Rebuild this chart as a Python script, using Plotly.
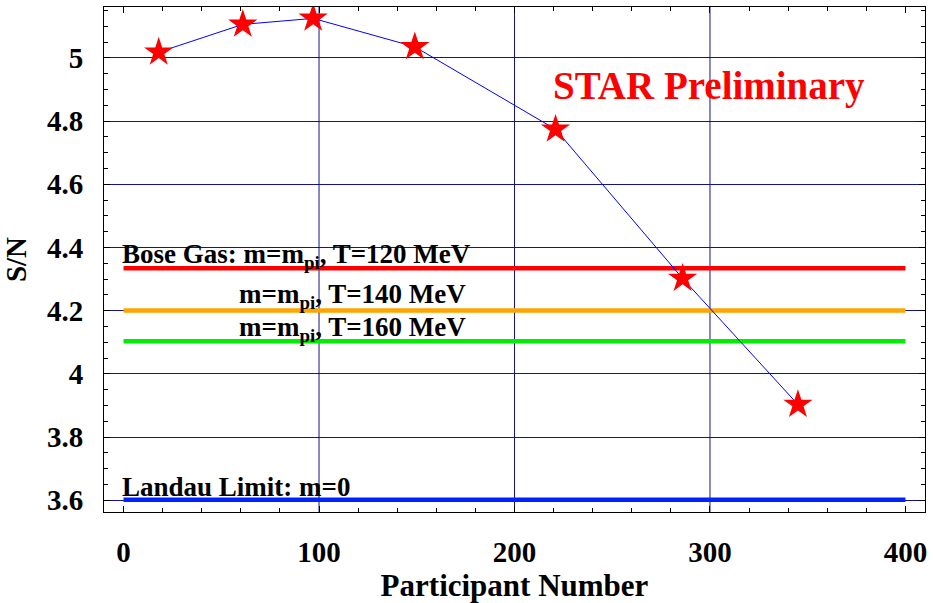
import plotly.graph_objects as go

# data
participants = [18, 61, 97, 149, 221, 286, 345]
sn_values = [5.018, 5.106, 5.125, 5.035, 4.774, 4.302, 3.903]

ref_x = [0, 400]
bose_120 = 4.334
bose_140 = 4.201
bose_160 = 4.103
landau = 3.602

x_ticks = [0, 100, 200, 300, 400]
y_ticks = [3.6, 3.8, 4.0, 4.2, 4.4, 4.6, 4.8, 5.0]
y_tick_text = ["3.6", "3.8", "4", "4.2", "4.4", "4.6", "4.8", "5"]
grid_x = [100, 200, 300]

FONT = "Liberation Serif, Times New Roman, serif"
GRID = "#14148a"

fig = go.Figure()

ref_lines = [
    (bose_120, "#ff0000"),
    (bose_140, "#ffa500"),
    (bose_160, "#00ee00"),
    (landau, "#0022ff"),
]
for val, col in ref_lines:
    fig.add_trace(go.Scatter(x=ref_x, y=[val, val], mode="lines",
                             line=dict(color=col, width=4.5),
                             showlegend=False, hoverinfo="skip"))

fig.add_trace(go.Scatter(x=participants, y=sn_values, mode="lines+markers",
                         line=dict(color="#0000ff", width=1),
                         marker=dict(symbol="star", size=22, color="#ff0000",
                                     line=dict(width=0)),
                         showlegend=False))

for gx in grid_x:
    fig.add_vline(x=gx, line=dict(color=GRID, width=1), layer="below")

tf = dict(family=FONT, size=29, color="black", weight="bold")
ttf = dict(family=FONT, size=31, color="black", weight="bold")
lf = dict(family=FONT, size=27, color="black", weight="bold")

annots = [
    dict(x=0, y=bose_120 + 0.040, text="Bose Gas: m=m<sub>pi</sub>, T=120 MeV"),
    dict(x=60, y=bose_140 + 0.045, text="m=m<sub>pi</sub>, T=140 MeV"),
    dict(x=60, y=bose_160 + 0.039, text="m=m<sub>pi</sub>, T=160 MeV"),
    dict(x=0, y=landau + 0.040, text="Landau Limit: m=0"),
]
for a in annots:
    fig.add_annotation(x=a["x"], y=a["y"], text=a["text"], showarrow=False,
                       xanchor="left", yanchor="middle", xshift=-4, font=lf)
fig.add_annotation(x=220, y=4.911, text="STAR Preliminary", showarrow=False,
                   xanchor="left", yanchor="middle", xshift=-3,
                   font=dict(family=FONT, size=39, color="#ff0000", weight="bold"))

fig.update_layout(
    width=933, height=603,
    margin=dict(l=104, r=6, t=6, b=89),
    paper_bgcolor="white", plot_bgcolor="white",
    font=dict(family=FONT, color="black", weight="bold"),
    xaxis=dict(range=[-10, 410], tickvals=x_ticks, showgrid=False, zeroline=False,
               showline=True, linecolor="black", linewidth=1, mirror="allticks",
               ticks="inside", ticklen=6, tickcolor="black",
               minor=dict(dtick=20, ticks="inside", ticklen=4, tickcolor="black"),
               tickfont=tf, ticklabelstandoff=14,
               title=dict(text="Participant Number", font=ttf, standoff=8)),
    yaxis=dict(range=[3.563, 5.161], tickvals=y_ticks, ticktext=y_tick_text,
               showgrid=True, gridcolor=GRID, gridwidth=1, zeroline=False,
               showline=True, linecolor="black", linewidth=1, mirror="allticks",
               ticks="inside", ticklen=6, tickcolor="black",
               minor=dict(dtick=0.05, tick0=3.6, ticks="inside", ticklen=4, tickcolor="black"),
               tickfont=tf, ticklabelstandoff=14,
               title=dict(text="S/N", font=tf, standoff=14)),
)

fig.write_html("out.html", config={"displayModeBar": False},
               post_script="document.body.style.margin='0';")
